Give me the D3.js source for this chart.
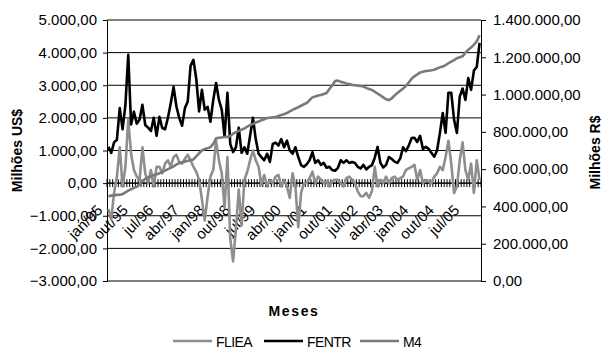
<!DOCTYPE html>
<html>
<head>
<meta charset="utf-8">
<script src="https://cdn.jsdelivr.net/npm/d3@7/dist/d3.min.js"></script>
<style>
  html, body { margin: 0; padding: 0; background: #fff; }
  svg { display: block; font-family: "Liberation Sans", Arial, sans-serif; }
</style>
</head>
<body>
<svg id="chart" width="602" height="349"></svg>
<script>
// Monthly categories, jan/1995 .. dez/2005
const monthNames = ["jan","fev","mar","abr","mai","jun","jul","ago","set","out","nov","dez"];
const years = [95, 96, 97, 98, 99, 0, 1, 2, 3, 4, 5];
const categories = [];
years.forEach(y => monthNames.forEach(m => categories.push(m + "/" + String(y).padStart(2, "0"))));

// Category labels shown on the axis (every 9 months)
const xTickLabels = ["jan/95","out/95","jul/96","abr/97","jan/98","out/98","jul/99","abr/00",
                     "jan/01","out/01","jul/02","abr/03","jan/04","out/04","jul/05"];

// FLIEA (Milhões US$)
const fliea = [
  -800, -1100, -300, 200, 1100, -100, 500, 1950, 900, 400,
  200, 100, 1100, 300, 0, 400, -100, 500, 500, 300,
  600, 700, 500, 800, 870, 650, 600, 750, 870, 700,
  500, 350, 100, -500, -1150, -420, 200, 400, 1300, 700,
  300, -750, 800, -1700, -2400, -1400, -200, -1300, 100, 350,
  700, 1000, 700, 500, -50, 250, -100, 100, 0, 200,
  250, -100, 100, -100, -450, 300, -100, -1350, -300, 0,
  0, 150, 350, 0, 200, 100, 0, 50, -100, 50,
  100, 100, 0, -100, 150, 200, 100, 0, -250, -400,
  -400, -300, -450, -250, 500, -100, 100, 0, 200, 0,
  150, 200, 100, 150, 200, 400, 450, 500, 560, 100,
  400, 0, 100, 50, 0, 200, 300, 500, 400, 800,
  1300, 600, -300, -100, 700, 1250, 400, 100, 600, -300, 700, 100
];

// FENTR (Milhões US$)
const fentr = [
  1110, 925, 1250, 1330, 2300, 1650, 2400, 3930, 1800, 2190,
  1820, 1950, 2400, 1780, 1700, 1600, 2000, 1450, 2030, 1690,
  1650, 2000, 2450, 2950, 2350, 2000, 1760, 2300, 2500, 3600,
  3780, 3200, 2200, 2860, 2250, 2340, 1880, 2550, 3070, 2550,
  2250, 1420, 2770, 1200, 950, 1100, 1700, 930, 1100, 900,
  1450, 2000, 1350, 900, 800, 700, 900, 650, 1200, 1240,
  1150, 1350, 1100, 1300, 1000, 900, 1100, 800, 550, 500,
  580, 700, 950, 620, 700, 560, 620, 470, 500, 400,
  380, 470, 700, 620, 700, 620, 650, 620, 500, 450,
  560, 420, 500, 550, 780, 1110, 620, 480, 560, 800,
  740, 660, 620, 760, 1100, 980, 1150, 1380, 1390, 1260,
  1450, 1050, 1110, 1050, 930, 810, 1000, 1540, 2150, 1540,
  2770, 2770, 1940, 1540, 2650, 2900, 2550, 3220, 2860, 3450, 3560, 4300
];

// M4 (Milhões R$)
const m4 = [
  455000, 458000, 460000, 462000, 463000, 466000, 475000, 485000, 492000, 500000,
  505000, 520000, 535000, 548000, 556000, 562000, 568000, 572000, 578000, 585000,
  592000, 600000, 607000, 615000, 625000, 632000, 637000, 640000, 645000, 648000,
  652000, 668000, 685000, 700000, 708000, 712000, 718000, 735000, 765000, 768000,
  770000, 772000, 773000, 778000, 790000, 798000, 805000, 812000, 818000, 828000,
  836000, 842000, 850000, 856000, 862000, 868000, 874000, 876000, 878000, 880000,
  885000, 890000, 895000, 901000, 910000, 918000, 925000, 932000, 940000, 948000,
  955000, 970000, 985000, 990000, 995000, 998000, 1003000, 1008000, 1030000, 1050000,
  1072000, 1075000, 1068000, 1065000, 1060000, 1056000, 1052000, 1050000, 1048000, 1046000,
  1043000, 1036000, 1030000, 1025000, 1015000, 1005000, 996000, 985000, 975000, 970000,
  980000, 995000, 1008000, 1020000, 1032000, 1046000, 1065000, 1085000, 1098000, 1108000,
  1118000, 1122000, 1126000, 1128000, 1130000, 1133000, 1140000, 1146000, 1150000, 1158000,
  1168000, 1177000, 1185000, 1195000, 1200000, 1205000, 1225000, 1240000, 1252000, 1268000, 1285000, 1318000
];

const leftTicks = [-3000, -2000, -1000, 0, 1000, 2000, 3000, 4000, 5000];
const rightTicks = [0, 200000, 400000, 600000, 800000, 1000000, 1200000, 1400000];

const seriesInfo = [
  { name: "FLIEA", values: fliea, axis: "left",  color: "#8e8e8e" },
  { name: "FENTR", values: fentr, axis: "left",  color: "#000000" },
  { name: "M4",    values: m4,    axis: "right", color: "#7a7a7a" }
];

const ptBR = d3.formatLocale({ decimal: ",", thousands: ".", grouping: [3], currency: ["R$ ", ""] });
const fmt = ptBR.format(",.2f");

const svg = d3.select("#chart");
const plot = { left: 107, right: 481, top: 20, bottom: 281 };

const x = d3.scaleBand().domain(categories).range([plot.left, plot.right]).padding(0);
const yL = d3.scaleLinear().domain([-3000, 5000]).range([plot.bottom, plot.top]);
const yR = d3.scaleLinear().domain([0, 1400000]).range([plot.bottom, plot.top]);
const cx = c => x(c) + x.bandwidth() / 2;

// horizontal gridlines at the left-axis ticks
svg.append("g").selectAll("line").data(leftTicks).join("line")
  .attr("x1", plot.left).attr("x2", plot.right)
  .attr("y1", d => yL(d)).attr("y2", d => yL(d))
  .attr("stroke", "#000").attr("stroke-width", 1);

// left axis
const gL = svg.append("g").attr("transform", `translate(${plot.left},0)`)
  .call(d3.axisLeft(yL).tickValues(leftTicks).tickFormat(fmt).tickSize(4).tickSizeOuter(0).tickPadding(6));
gL.select(".domain").attr("stroke", "#000");
gL.selectAll("text").attr("font-size", 15).attr("fill", "#000")
  .attr("font-family", "'Liberation Sans', Arial, sans-serif");

// right axis
const gR = svg.append("g").attr("transform", `translate(${plot.right},0)`)
  .call(d3.axisRight(yR).tickValues(rightTicks).tickFormat(fmt).tickSize(5).tickSizeOuter(0).tickPadding(7));
gR.select(".domain").attr("stroke", "#000");
gR.selectAll("text").attr("font-size", 15).attr("fill", "#000")
  .attr("font-family", "'Liberation Sans', Arial, sans-serif");

// category axis on the zero line with a tick at every month boundary
const y0 = yL(0);
const gX = svg.append("g");
gX.append("line").attr("x1", plot.left).attr("x2", plot.right)
  .attr("y1", y0).attr("y2", y0).attr("stroke", "#000");
const boundaries = categories.map(c => x(c)).concat([plot.right]);
gX.selectAll("line.tick").data(boundaries).join("line").attr("class", "tick")
  .attr("x1", d => d).attr("x2", d => d)
  .attr("y1", y0 - 4).attr("y2", y0 + 4)
  .attr("stroke", "#000").attr("stroke-width", 1);
gX.selectAll("text").data(xTickLabels).join("text")
  .attr("transform", d => `translate(${cx(d) - 5},${y0 + 28}) rotate(-45)`)
  .attr("text-anchor", "end")
  .attr("font-size", 15)
  .attr("fill", "#000")
  .text(d => d);

// series lines
seriesInfo.forEach(s => {
  const y = s.axis === "left" ? yL : yR;
  const line = d3.line().x((d, i) => cx(categories[i])).y(d => y(d));
  svg.append("path").datum(s.values)
    .attr("d", line)
    .attr("fill", "none")
    .attr("stroke", s.color)
    .attr("stroke-width", 2.6)
    .attr("stroke-linejoin", "round");
});

// axis titles
svg.append("text")
  .attr("transform", `translate(22,${(plot.top + plot.bottom) / 2}) rotate(-90)`)
  .attr("text-anchor", "middle").attr("font-size", 14).attr("font-weight", "bold")
  .text("Milhões US$");
svg.append("text")
  .attr("transform", `translate(600,${(plot.top + plot.bottom) / 2 + 2}) rotate(-90)`)
  .attr("text-anchor", "middle").attr("font-size", 14).attr("font-weight", "bold")
  .text("Milhões R$");
svg.append("text")
  .attr("x", (plot.left + plot.right) / 2).attr("y", 316)
  .attr("text-anchor", "middle").attr("font-size", 14).attr("font-weight", "bold")
  .attr("letter-spacing", 1.6)
  .text("Meses");

// legend
const legendX = [173, 264, 360];
const legend = svg.append("g");
seriesInfo.forEach((s, i) => {
  const g = legend.append("g").attr("transform", `translate(${legendX[i]},341)`);
  g.append("line").attr("x1", 0).attr("x2", 39).attr("y1", 0).attr("y2", 0)
    .attr("stroke", s.color).attr("stroke-width", 2.6);
  g.append("text").attr("x", 43).attr("y", 5.5).attr("font-size", 14)
    .attr("letter-spacing", -0.6)
    .text(s.name);
});
</script>
</body>
</html>
